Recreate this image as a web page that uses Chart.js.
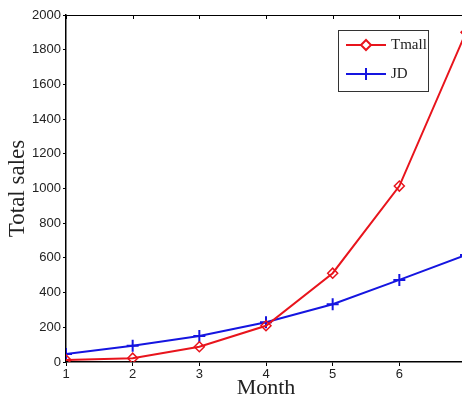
<!DOCTYPE html>
<html>
<head>
<meta charset="utf-8">
<script src="https://cdn.jsdelivr.net/npm/chart.js@4"></script>
<style>
  html, body { margin: 0; padding: 0; background: #fff; overflow: hidden; }
  #wrap { width: 474px; height: 401px; }
</style>
</head>
<body>
<div id="wrap"><canvas id="salesChart"></canvas></div>
<script>
var months = [1, 2, 3, 4, 5, 6, 7];
var tmallSales = [12, 22, 88, 209, 512, 1014, 1900];
var jdSales = [46, 94, 150, 229, 333, 473, 617];
var yTicks = [0, 200, 400, 600, 800, 1000, 1200, 1400, 1600, 1800, 2000];
var xTicks = [1, 2, 3, 4, 5, 6];

function toPoints(vals) {
    return months.map(function (m, i) { return { x: m, y: vals[i] }; });
}

// box frame + inward ticks on top/right, MATLAB style
var framePlugin = {
    id: "frame",
    afterDraw: function (chart) {
        var ctx = chart.ctx, a = chart.chartArea;
        var xs = chart.scales.x, ys = chart.scales.y;
        ctx.save();
        ctx.strokeStyle = "#000";
        ctx.lineWidth = 1;
        ctx.beginPath();
        ctx.moveTo(a.left, a.top + 0.5);
        ctx.lineTo(a.right, a.top + 0.5);
        ctx.moveTo(a.right - 0.5, a.top);
        ctx.lineTo(a.right - 0.5, a.bottom);
        months.forEach(function (m) {
            var px = Math.round(xs.getPixelForValue(m)) + 0.5;
            ctx.moveTo(px, a.top);
            ctx.lineTo(px, a.top + 4);
        });
        yTicks.forEach(function (v) {
            var py = Math.round(ys.getPixelForValue(v)) + 0.5;
            ctx.moveTo(a.right, py);
            ctx.lineTo(a.right - 4, py);
        });
        ctx.stroke();
        ctx.restore();
    }
};

// legend box inside the plot, line with marker
var legendPlugin = {
    id: "boxLegend",
    afterDraw: function (chart) {
        var ctx = chart.ctx;
        var bx = 338, by = 30, bw = 90, bh = 61;
        ctx.save();
        ctx.fillStyle = "#fff";
        ctx.fillRect(bx, by, bw, bh);
        ctx.strokeStyle = "#333";
        ctx.lineWidth = 1;
        ctx.strokeRect(bx + 0.5, by + 0.5, bw, bh);
        chart.data.datasets.forEach(function (ds, i) {
            var y = 45 + i * 29;
            ctx.strokeStyle = ds.borderColor;
            ctx.lineWidth = 2;
            ctx.beginPath();
            ctx.moveTo(346, y);
            ctx.lineTo(386, y);
            ctx.stroke();
            Chart.helpers.drawPoint(ctx, {
                pointStyle: ds.pointStyle,
                radius: ds.pointRadius,
                rotation: 0,
                borderWidth: ds.pointBorderWidth
            }, 366, y);
            ctx.fillStyle = "#222";
            ctx.font = "15px 'Liberation Serif', serif";
            ctx.textBaseline = "middle";
            ctx.textAlign = "left";
            ctx.fillText(ds.label, 391, y);
        });
        ctx.restore();
    }
};

var ctx = document.getElementById("salesChart").getContext("2d");

var data = {
    datasets: [
        {
            label: "Tmall",
            data: toPoints(tmallSales),
            borderColor: "#e8141c",
            backgroundColor: "#fff",
            borderWidth: 2,
            pointStyle: "rectRot",
            pointRadius: 5,
            pointBorderWidth: 1.5,
            pointBorderColor: "#e8141c",
            pointBackgroundColor: "rgba(255,255,255,0)"
        },
        {
            label: "JD",
            data: toPoints(jdSales),
            borderColor: "#1515e0",
            backgroundColor: "#1515e0",
            borderWidth: 2,
            pointStyle: "cross",
            pointRadius: 6,
            pointBorderWidth: 2,
            pointBorderColor: "#1515e0"
        }
    ]
};

var options = {
    responsive: true,
    maintainAspectRatio: false,
    animation: false,
    layout: { padding: { top: 15, right: 5, left: 0, bottom: 0 } },
    plugins: {
        legend: { display: false },
        tooltip: { enabled: false }
    },
    scales: {
        x: {
            type: "linear",
            min: 1,
            max: 7,
            afterFit: function (s) { s.height = 39; },
            afterBuildTicks: function (s) {
                s.ticks = xTicks.map(function (v) { return { value: v }; });
            },
            grid: { drawOnChartArea: false, drawTicks: true, tickLength: 4, color: "#000" },
            border: { display: true, color: "#000", width: 1.5 },
            ticks: {
                color: "#222",
                padding: 1,
                maxRotation: 0,
                callback: function (v) { return String(v); },
                font: { family: "'Liberation Sans', Arial", size: 13 }
            },
            title: {
                display: true,
                text: "Month",
                color: "#222",
                padding: { top: 0, bottom: 0 },
                font: { family: "'Liberation Serif', serif", size: 22 }
            }
        },
        y: {
            min: 0,
            max: 2000,
            afterFit: function (s) { s.width = 66; },
            afterBuildTicks: function (s) {
                s.ticks = yTicks.map(function (v) { return { value: v }; });
            },
            grid: { drawOnChartArea: false, drawTicks: true, tickLength: 3, color: "#000" },
            border: { display: true, color: "#000", width: 1.5 },
            ticks: {
                color: "#222",
                padding: 2,
                callback: function (v) { return String(v); },
                font: { family: "'Liberation Sans', Arial", size: 13 }
            },
            title: {
                display: true,
                text: "Total sales",
                color: "#222",
                padding: { top: 4, bottom: 0 },
                font: { family: "'Liberation Serif', serif", size: 23 }
            }
        }
    }
};

var salesChart = new Chart(ctx, {
    type: "line",
    data: data,
    options: options,
    plugins: [framePlugin, legendPlugin]
});
</script>
</body>
</html>
